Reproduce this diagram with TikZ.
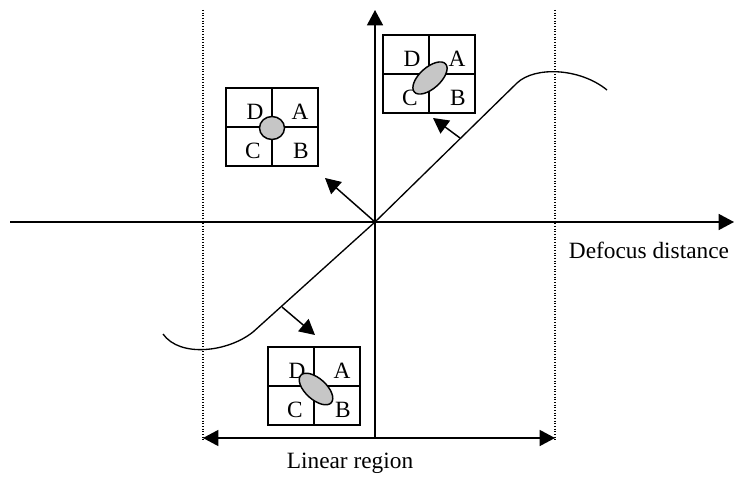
\documentclass[tikz,border=0pt]{standalone}
\usepackage{fontspec}
\setmainfont{Liberation Serif}
\usetikzlibrary{arrows.meta,shapes.geometric}
\begin{document}
\begin{tikzpicture}[x=0.75pt,y=-0.75pt,line width=1.1pt,
    tip/.style={-{Triangle[length=11.5pt,width=12pt]}},
    quad/.style={draw,minimum width=69pt,minimum height=58.5pt,inner sep=0pt},
    spot/.style={draw,ellipse,fill=gray!45,inner sep=0pt},
    lbl/.style={font=\fontsize{17.5}{20}\selectfont,inner sep=0pt}]
  \useasboundingbox (0,0) rectangle (734,477);
  % axes
  \coordinate (O) at (375,222);
  \coordinate (W) at (10,222);
  \coordinate (E) at (734,222);
  \coordinate (S) at (375,438);
  \coordinate (N) at (375,10);
  \draw (W) edge[tip] (E);
  \draw (S) edge[tip] (N);
  \node[lbl] (defocus) at (649,250) {Defocus distance};

  % linear region
  \coordinate (DL-top) at (203,10);
  \coordinate (DL-bot) at (203,440);
  \coordinate (DR-top) at (555,10);
  \coordinate (DR-bot) at (555,440);
  \draw[line width=0.9pt,dash pattern=on 0.8pt off 1.2pt] (DL-top) -- (DL-bot) (DR-top) -- (DR-bot);
  \coordinate (LR-l) at (203,438);
  \coordinate (LR-r) at (555,438);
  \draw[{Triangle[length=11.5pt,width=12pt]}-{Triangle[length=11.5pt,width=12pt]}] (LR-l) -- (LR-r);
  \node[lbl] (linear) at (350,463) {Linear region};

  % response curve
  \coordinate (lo-end) at (163,334);
  \coordinate (lo-knee) at (253,332);
  \coordinate (up-knee) at (517,83);
  \coordinate (up-end) at (607,90);
  \draw[line width=1pt] (lo-end) .. controls (180,358) and (228,352) .. (lo-knee)
    -- (O) -- (up-knee) .. controls (535,66) and (580,68) .. (up-end);

  % spots
  \coordinate (P-ur) at (460,138);
  \coordinate (T-ur) at (433,118);
  \coordinate (T-ul) at (325,178);
  \coordinate (P-lo) at (282,307);
  \coordinate (T-lo) at (315,335);
  \draw (P-ur) edge[tip] (T-ur);
  \draw (O) edge[tip] (T-ul);
  \draw (P-lo) edge[tip] (T-lo);

  \foreach \q/\cx/\cy/\ex/\ey/\w/\h/\r in {ur/429/74/1/4/42/21/42, ul/272/127/0/1/25/23/0, lo/314/386/2/3/41/21/-42} {
    \node[quad] (\q) at (\cx,\cy) {};
    \draw (\q.north) -- (\q.south) (\q.west) -- (\q.east);
    \foreach \l/\dx/\dy in {D/-17/-15, A/28/-15, C/-19/24, B/29/24}
      \node[lbl] (\q-\l) at ([shift={(\dx,\dy)}]\q.center) {\l};
    \node[spot,minimum width=\w*0.75pt,minimum height=\h*0.75pt,rotate=\r] (\q-spot) at ([shift={(\ex,\ey)}]\q.center) {};
  }
\end{tikzpicture}
\end{document}
